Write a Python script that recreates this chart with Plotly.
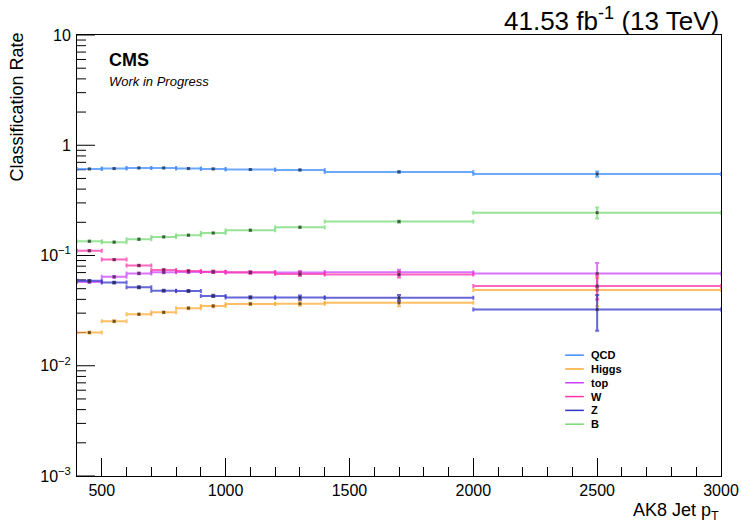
import plotly.graph_objects as go

# pT bin edges of the AK8 jet (GeV)
pt_edges = [400, 500, 600, 700, 800, 900, 1000, 1200, 1400, 2000, 3000]

class_names = ["QCD", "Higgs", "top", "W", "Z", "B"]
class_colors = ["#3d8bff", "#ffaa33", "#cc44ff", "#ff33aa", "#3333cc", "#77d977"]

rate_qcd = [0.610, 0.614, 0.623, 0.623, 0.614, 0.610, 0.602, 0.597, 0.573, 0.548]
rate_higgs = [0.0200, 0.0253, 0.0293, 0.0305, 0.0333, 0.0348, 0.0364, 0.0365, 0.0372, 0.0486]
rate_top = [0.0576, 0.0640, 0.0688, 0.0705, 0.0710, 0.0710, 0.0700, 0.0700, 0.0703, 0.0685]
rate_w = [0.1105, 0.0918, 0.0812, 0.0740, 0.0725, 0.0712, 0.0703, 0.0678, 0.0671, 0.0528]
rate_z = [0.0590, 0.0568, 0.0515, 0.0480, 0.0477, 0.0430, 0.0417, 0.0415, 0.0413, 0.0323]
rate_b = [0.1346, 0.1322, 0.1404, 0.1475, 0.1527, 0.1600, 0.1694, 0.1804, 0.2030, 0.2445]

err_qcd = [0.003, 0.003, 0.003, 0.003, 0.003, 0.004, 0.004, 0.006, 0.008, 0.029]
err_higgs = [0.0004, 0.0005, 0.0005, 0.0006, 0.0007, 0.0008, 0.0008, 0.0015, 0.0025, 0.014]
err_top = [0.0010, 0.0012, 0.0012, 0.0013, 0.0015, 0.0016, 0.0017, 0.0025, 0.0040, 0.017]
err_w = [0.0015, 0.0013, 0.0013, 0.0013, 0.0014, 0.0015, 0.0016, 0.0025, 0.0040, 0.013]
err_z = [0.0010, 0.0010, 0.0010, 0.0010, 0.0010, 0.0010, 0.0010, 0.0018, 0.0025, 0.0115]
err_b = [0.0020, 0.0020, 0.0020, 0.0020, 0.0020, 0.0020, 0.0025, 0.0030, 0.0050, 0.028]

rates = [rate_qcd, rate_higgs, rate_top, rate_w, rate_z, rate_b]
errors = [err_qcd, err_higgs, err_top, err_w, err_z, err_b]

# y-axis decades (major ticks) and the 2..9 sub-decade ticks
decades = [0.001, 0.01, 0.1, 1, 10]
decade_labels = ["10<sup>\u22123</sup>", "10<sup>\u22122</sup>", "10<sup>\u22121</sup>", "1", "10"]
sub_ticks = [d * k for d in decades[:-1] for k in range(2, 10)]

centers = [(lo + hi) / 2 for lo, hi in zip(pt_edges[:-1], pt_edges[1:])]
half_widths = [(hi - lo) / 2 for lo, hi in zip(pt_edges[:-1], pt_edges[1:])]

FONT = "Arial, Liberation Sans, sans-serif"
W, H = 741, 523
M_L, M_R, M_T, M_B = 77, 20, 35, 47
PLOT_W = W - M_L - M_R
PLOT_H = H - M_T - M_B
X_MIN, X_MAX = pt_edges[0], pt_edges[-1]
X_PER_PX = (X_MAX - X_MIN) / PLOT_W


def with_alpha(hex_color, alpha):
    h = hex_color.lstrip("#")
    r, g, b = int(h[0:2], 16), int(h[2:4], 16), int(h[4:6], 16)
    return f"rgba({r},{g},{b},{alpha})"


fig = go.Figure()

# inward tick marks along the log y axis (long at decades, short in between)
tick_x, tick_y = [], []
for val, length in [(v, 18) for v in decades] + [(v, 9) for v in sub_ticks]:
    tick_x += [X_MIN, X_MIN + length * X_PER_PX, None]
    tick_y += [val, val, None]
fig.add_trace(go.Scatter(x=tick_x, y=tick_y, mode="lines", showlegend=False,
                         hoverinfo="skip", line=dict(color="black", width=1)))

for name, color, y, ey in zip(class_names, class_colors, rates, errors):
    fig.add_trace(go.Scatter(
        x=centers, y=y, name=name, mode="markers", showlegend=False,
        marker=dict(size=3, color="rgba(40,40,40,0.7)", symbol="square"),
        error_x=dict(type="data", array=half_widths, symmetric=True,
                     color=with_alpha(color, 0.75), thickness=2, width=2),
        error_y=dict(type="data", array=ey, symmetric=True,
                     color=with_alpha(color, 0.75), thickness=2, width=2),
    ))

shapes = []
annotations = []

# Legend block (line swatch + bold label), placed inside the frame
leg_x0, leg_x1, leg_tx = 0.758, 0.787, 0.795
leg_y0, leg_dy = 0.274, 0.0313
for i, (name, color) in enumerate(zip(class_names, class_colors)):
    yy = leg_y0 - i * leg_dy
    shapes.append(dict(type="line", xref="paper", yref="paper",
                       x0=leg_x0, x1=leg_x1, y0=yy, y1=yy,
                       line=dict(color=color, width=1.5)))
    annotations.append(dict(xref="paper", yref="paper", x=leg_tx, y=yy,
                            xanchor="left", yanchor="middle", showarrow=False,
                            text=f"<b>{name}</b>",
                            font=dict(family=FONT, size=11, color="black")))

annotations += [
    dict(xref="paper", yref="paper", x=1.0, y=1 + 16 / PLOT_H, xanchor="right",
         yanchor="middle", showarrow=False, text="41.53 fb<sup>-1</sup> (13 TeV)",
         font=dict(family=FONT, size=26, color="black")),
    dict(xref="paper", yref="paper", x=0.047, y=0.97, xanchor="left", yanchor="top",
         showarrow=False, text="<b>CMS</b>",
         font=dict(family=FONT, size=18, color="black")),
    dict(xref="paper", yref="paper", x=0.047, y=0.915, xanchor="left", yanchor="top",
         showarrow=False, text="<i>Work in Progress</i>",
         font=dict(family=FONT, size=13, color="black")),
    dict(xref="paper", yref="paper", x=1.0, y=0, xanchor="right", yanchor="top",
         yshift=-22, showarrow=False, text="AK8 Jet p<sub>T</sub>",
         font=dict(family=FONT, size=18, color="black")),
    dict(xref="paper", yref="paper", x=0, y=1.0, xanchor="right", yanchor="top",
         xshift=-49, yshift=4, textangle=-90, showarrow=False, text="Classification Rate",
         font=dict(family=FONT, size=18, color="black")),
]

fig.update_layout(
    width=W, height=H,
    margin=dict(l=M_L, r=M_R, t=M_T, b=M_B, autoexpand=False),
    paper_bgcolor="white", plot_bgcolor="white",
    font=dict(family=FONT, size=16, color="black"),
    shapes=shapes, annotations=annotations,
    showlegend=False,
)

fig.update_xaxes(
    range=[X_MIN, X_MAX], tick0=500, dtick=500, automargin=False,
    ticks="inside", ticklen=18, tickwidth=1, tickcolor="black",
    minor=dict(dtick=100, ticks="inside", ticklen=9, tickwidth=1, tickcolor="black"),
    showline=True, linecolor="black", linewidth=1, mirror=True,
    showgrid=False, zeroline=False,
    tickfont=dict(family=FONT, size=16),
)

fig.update_yaxes(
    type="log", range=[-3, 1], automargin=False,
    tickmode="array", tickvals=decades, ticktext=decade_labels,
    ticks="outside", ticklen=2, tickcolor="rgba(0,0,0,0)",
    showline=True, linecolor="black", linewidth=1, mirror=True,
    showgrid=False, zeroline=False,
    tickfont=dict(family=FONT, size=16),
)

fig.write_html("out.html")
